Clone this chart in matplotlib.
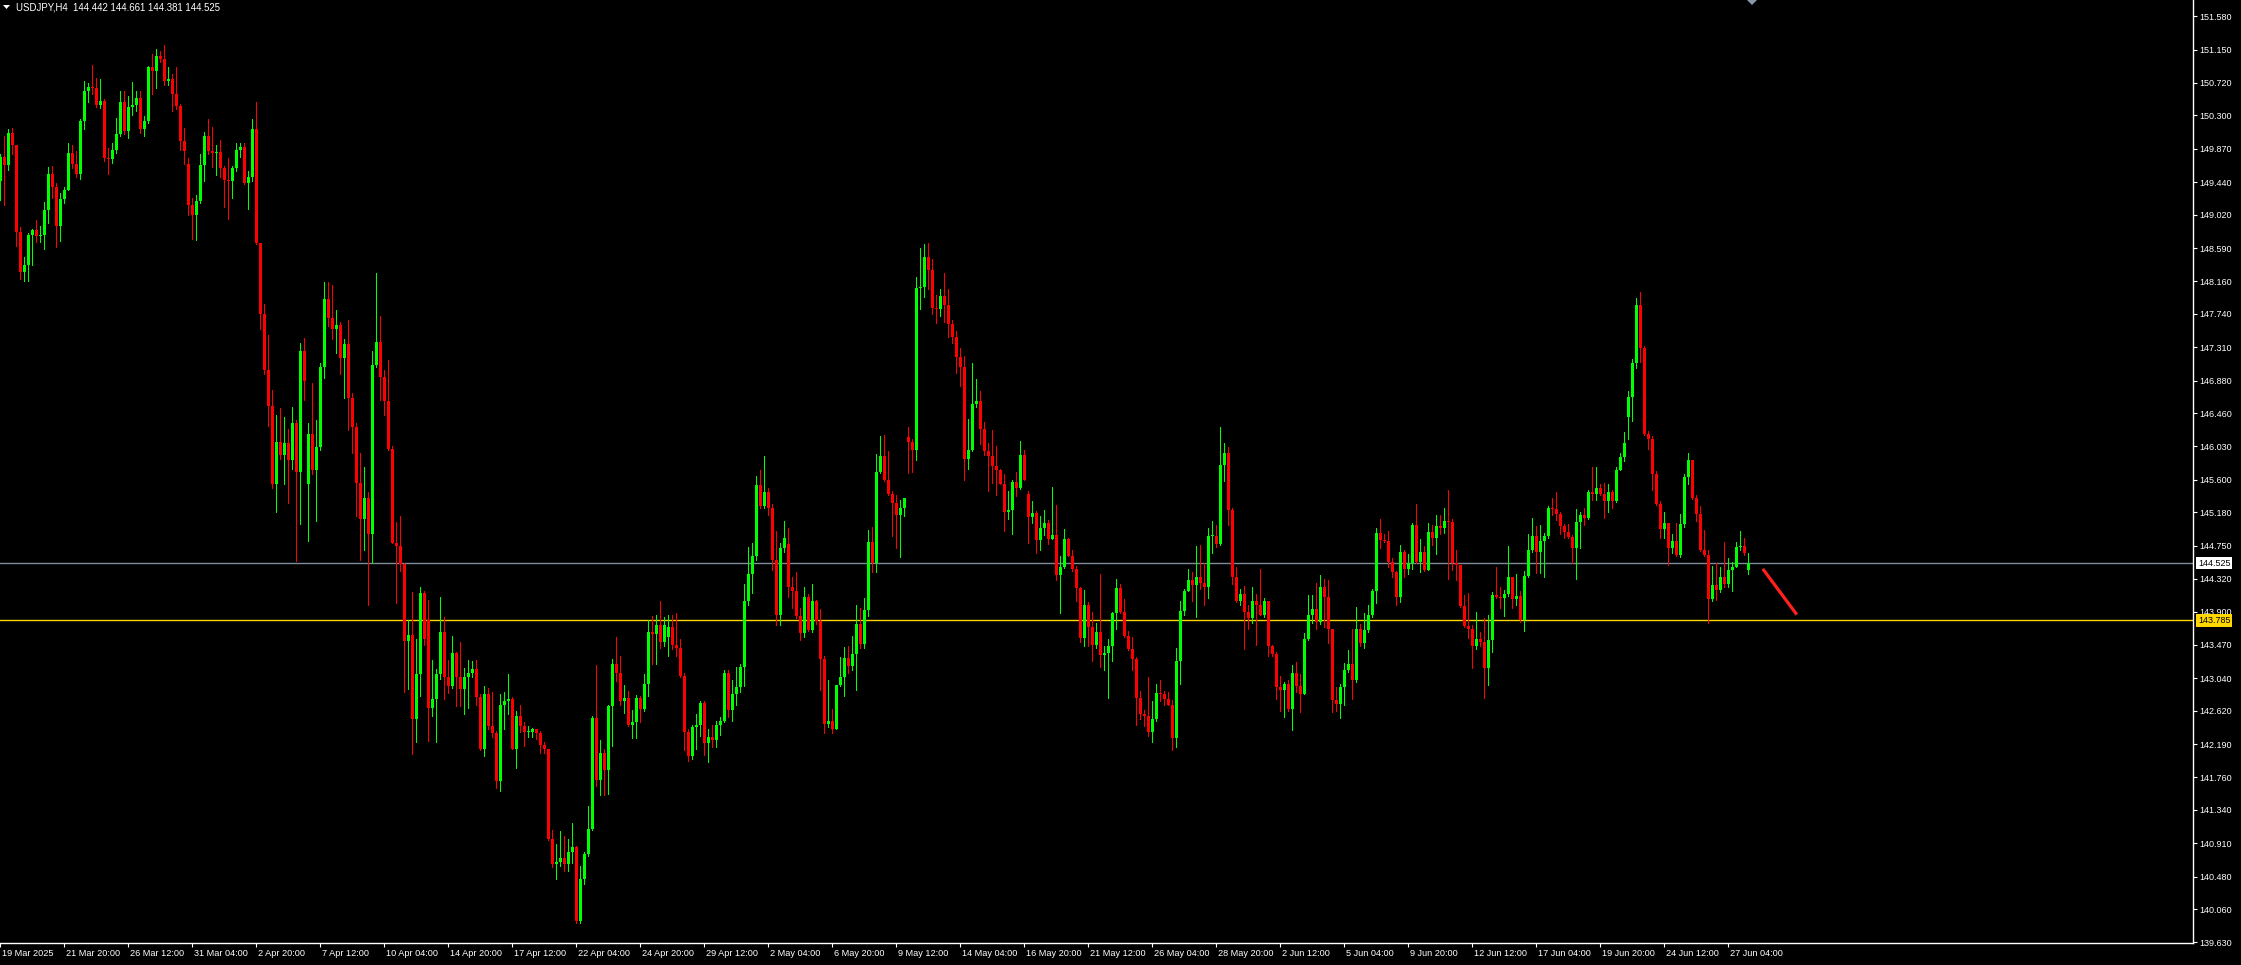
import numpy as np
import pandas as pd
import matplotlib
matplotlib.use("Agg")
import matplotlib.pyplot as plt
from matplotlib.patches import Polygon
from matplotlib.transforms import ScaledTranslation, blended_transform_factory

plt.rcParams['font.family'] = ['Liberation Sans', 'DejaVu Sans']

# USDJPY H4, first bar 19 Mar 2025 04:00
symbol = "USDJPY,H4"
first_time = "2025-03-19 04:00"
first_open = 149.45

closes = [
    149.77, 149.66, 150.08, 149.92, 148.80, 148.28, 148.37, 148.76, 148.82, 148.74,
    148.76, 149.08, 149.55, 149.38, 148.88, 149.22, 149.34, 149.82, 149.68, 149.54,
    150.23, 150.61, 150.67, 150.66, 150.43, 150.49, 149.75, 149.74, 149.86, 150.06,
    150.47, 150.10, 150.41, 150.43, 150.52, 150.12, 150.23, 150.92, 150.88, 151.07,
    151.03, 150.75, 150.77, 150.58, 150.42, 149.97, 149.84, 149.14, 149.02, 149.20,
    149.66, 150.03, 149.84, 149.82, 149.83, 149.62, 149.47, 149.46, 149.62, 149.86,
    149.89, 149.43, 149.50, 150.12, 148.65, 147.74, 147.01, 146.55, 145.54, 146.09,
    145.92, 146.08, 145.85, 146.33, 145.70, 147.26, 146.87, 146.19, 145.72, 146.02,
    147.06, 147.93, 147.69, 147.54, 147.60, 147.17, 147.35, 146.65, 146.28, 145.56,
    145.09, 145.37, 144.90, 147.08, 147.38, 146.93, 146.61, 146.00, 144.79, 144.74,
    144.51, 143.52, 143.60, 142.51, 143.10, 144.14, 143.55, 142.66, 142.77, 143.09,
    143.64, 143.05, 142.94, 143.37, 143.05, 142.90, 143.05, 143.11, 143.16, 142.80,
    142.12, 142.83, 142.42, 142.33, 141.71, 142.70, 142.74, 142.77, 142.13, 142.55,
    142.42, 142.34, 142.34, 142.38, 142.33, 142.18, 142.12, 140.97, 140.64, 140.67,
    140.72, 140.64, 140.80, 140.86, 139.91, 140.45, 140.77, 141.10, 142.53, 141.73,
    142.07, 141.86, 142.68, 143.22, 143.11, 142.75, 142.78, 142.43, 142.48, 142.78,
    142.64, 142.96, 143.63, 143.61, 143.73, 143.51, 143.73, 143.70, 143.47, 143.43,
    143.07, 142.34, 142.03, 142.41, 142.44, 142.72, 142.20, 142.28, 142.24, 142.43,
    142.49, 143.11, 142.63, 142.83, 142.92, 143.19, 144.04, 144.39, 144.62, 145.53,
    145.26, 145.44, 145.24, 144.56, 143.86, 144.72, 144.85, 144.22, 144.16, 143.84,
    143.62, 144.09, 143.66, 144.04, 143.78, 143.29, 142.45, 142.49, 142.39, 142.95,
    143.05, 143.30, 143.20, 143.35, 143.74, 143.48, 143.92, 144.80, 144.52, 145.70,
    145.91, 145.60, 145.41, 145.30, 145.14, 145.23, 145.37, 146.09, 145.99, 148.08,
    148.09, 148.48, 148.31, 147.81, 147.80, 147.97, 147.86, 147.61, 147.44, 147.18,
    147.06, 145.87, 145.99, 146.58, 146.61, 146.25, 145.97, 145.91, 145.78, 145.73,
    145.55, 145.18, 145.21, 145.57, 145.49, 145.92, 145.60, 145.12, 145.17, 144.82,
    144.98, 145.04, 144.83, 144.89, 144.37, 144.47, 144.84, 144.62, 144.45, 144.20,
    143.56, 143.98, 143.70, 143.47, 143.63, 143.34, 143.36, 143.46, 143.88, 144.20,
    143.89, 143.59, 143.41, 143.29, 142.79, 142.58, 142.55, 142.34, 142.51, 142.85,
    142.83, 142.77, 142.70, 142.27, 143.26, 143.91, 144.17, 144.31, 144.24, 144.35,
    144.27, 144.21, 144.88, 144.88, 144.77, 145.79, 145.95, 145.21, 144.34, 144.04,
    144.12, 143.90, 143.81, 144.04, 143.99, 143.86, 144.04, 143.46, 143.35, 142.93,
    142.89, 142.96, 142.64, 143.11, 142.94, 142.84, 143.55, 143.85, 143.93, 143.76,
    144.21, 144.09, 143.68, 142.76, 142.71, 142.92, 143.15, 143.22, 143.02, 143.68,
    143.50, 143.66, 143.86, 144.16, 144.91, 144.82, 144.81, 144.54, 144.41, 144.09,
    144.67, 144.45, 144.52, 145.01, 144.54, 144.67, 144.44, 144.93, 144.85, 145.00,
    144.98, 145.07, 145.05, 144.52, 144.50, 143.97, 143.71, 143.68, 143.45, 143.54,
    143.51, 143.17, 143.53, 144.11, 144.09, 144.08, 144.13, 144.34, 144.06, 144.10,
    143.79, 144.36, 144.70, 144.87, 144.67, 144.81, 144.88, 145.24, 145.22, 145.16,
    145.00, 144.92, 144.86, 144.72, 145.06, 145.14, 145.11, 145.44, 145.41, 145.50,
    145.42, 145.32, 145.44, 145.32, 145.73, 145.90, 146.08, 146.67, 147.10, 147.86,
    147.30, 146.19, 146.12, 145.67, 145.29, 144.96, 145.04, 144.72, 144.81, 144.63,
    145.03, 145.63, 145.86, 145.36, 145.16, 144.69, 144.63, 144.06, 144.24, 144.18,
    144.34, 144.26, 144.43, 144.48, 144.73, 144.74, 144.65, 144.525,
]

highs = [
    149.80, 150.03, 150.12, 150.14, 149.92, 148.86, 148.47, 148.79, 148.84, 148.95,
    148.88, 149.19, 149.63, 149.65, 149.43, 149.30, 149.38, 149.95, 149.92, 149.84,
    150.25, 150.75, 150.72, 150.95, 150.79, 150.77, 150.51, 149.88, 149.95, 150.27,
    150.62, 150.61, 150.55, 150.73, 150.62, 150.62, 150.29, 150.94, 151.09, 151.16,
    151.13, 151.21, 150.92, 150.84, 150.92, 150.45, 150.14, 149.75, 149.23, 149.28,
    149.80, 150.09, 150.26, 150.15, 149.92, 149.99, 149.65, 149.75, 149.65, 149.95,
    149.95, 149.95, 149.58, 150.25, 150.48, 148.62, 147.87, 147.47, 146.76, 146.43,
    146.52, 146.41, 146.26, 146.54, 146.37, 147.37, 147.43, 146.33, 146.85, 146.37,
    147.11, 148.15, 148.15, 148.11, 147.79, 147.63, 147.41, 147.66, 146.72, 146.33,
    145.94, 145.77, 145.44, 147.26, 148.27, 147.71, 147.02, 147.15, 146.04, 145.05,
    145.13, 144.53, 143.79, 144.15, 143.55, 144.21, 144.16, 144.05, 143.27, 143.16,
    144.09, 143.83, 143.27, 143.59, 143.38, 143.51, 143.17, 143.27, 143.26, 143.27,
    142.83, 142.94, 142.91, 142.86, 142.36, 142.84, 142.86, 143.09, 142.80, 142.62,
    142.70, 142.48, 142.42, 142.40, 142.39, 142.36, 142.21, 142.12, 141.08, 140.90,
    141.07, 141.01, 140.97, 141.17, 140.87, 140.62, 140.80, 141.39, 142.55, 143.21,
    142.24, 142.13, 142.69, 143.29, 143.57, 143.32, 142.95, 142.87, 142.63, 142.82,
    142.81, 143.10, 143.79, 143.84, 143.85, 144.03, 143.83, 143.86, 143.85, 143.88,
    143.55, 143.11, 142.38, 142.43, 142.58, 142.74, 142.75, 142.39, 142.43, 142.49,
    142.54, 143.15, 143.14, 143.02, 143.19, 143.22, 144.25, 144.73, 144.78, 145.65,
    145.72, 145.91, 145.50, 145.29, 144.94, 144.78, 145.07, 144.98, 144.35, 144.41,
    143.94, 144.22, 144.13, 144.26, 144.05, 143.93, 143.32, 143.02, 142.64, 142.95,
    143.31, 143.44, 143.45, 143.59, 143.99, 143.95, 144.07, 144.95, 144.99, 145.93,
    146.17, 146.18, 145.97, 145.45, 145.40, 145.34, 145.37, 146.28, 146.13, 148.21,
    148.59, 148.64, 148.65, 148.45, 147.99, 148.06, 148.27, 148.06, 147.66, 147.52,
    147.30, 147.20, 146.39, 147.11, 146.90, 146.74, 146.34, 146.08, 146.24, 146.03,
    145.74, 145.67, 145.46, 145.60, 145.70, 146.10, 145.98, 145.45, 145.33, 145.20,
    145.13, 145.21, 145.08, 145.51, 145.28, 144.61, 144.97, 144.85, 144.69, 144.49,
    144.22, 144.18, 144.02, 143.89, 143.75, 144.39, 143.46, 143.55, 143.90, 144.32,
    144.26, 144.06, 143.65, 143.57, 143.31, 142.88, 142.63, 143.06, 142.75, 142.97,
    143.02, 142.87, 142.86, 142.76, 143.43, 144.04, 144.19, 144.45, 144.41, 144.75,
    144.76, 144.53, 144.98, 145.07, 145.01, 146.28, 146.08, 146.02, 145.23, 144.47,
    144.19, 144.23, 143.99, 144.22, 144.13, 144.45, 144.07, 143.98, 143.47, 143.38,
    143.07, 142.99, 143.01, 143.21, 143.25, 143.10, 143.62, 144.11, 144.11, 144.27,
    144.37, 144.32, 144.31, 143.68, 142.93, 142.97, 143.23, 143.40, 143.67, 143.96,
    143.74, 143.88, 143.98, 144.19, 144.98, 145.09, 144.90, 144.94, 144.59, 144.42,
    144.76, 144.70, 144.64, 145.04, 145.29, 144.83, 144.74, 145.04, 145.01, 145.15,
    145.15, 145.24, 145.47, 145.09, 144.69, 144.50, 144.11, 144.14, 143.73, 143.90,
    143.64, 143.81, 143.86, 144.15, 144.48, 144.21, 144.18, 144.74, 144.35, 144.38,
    144.17, 144.42, 144.90, 145.11, 145.00, 145.02, 144.91, 145.26, 145.36, 145.44,
    145.18, 145.03, 145.03, 144.89, 145.22, 145.18, 145.24, 145.47, 145.76, 145.76,
    145.55, 145.56, 145.54, 145.47, 145.76, 145.95, 146.21, 146.75, 147.16, 147.95,
    148.02, 147.33, 146.23, 146.16, 145.71, 145.32, 145.18, 145.04, 144.90, 145.04,
    145.16, 145.67, 145.95, 145.86, 145.40, 145.26, 144.95, 144.70, 144.49, 144.53,
    144.47, 144.80, 144.59, 144.54, 144.80, 144.94, 144.85, 144.661,
]

lows = [
    149.21, 149.14, 149.60, 149.80, 148.62, 148.19, 148.17, 148.17, 148.37, 148.67,
    148.67, 148.58, 148.91, 149.23, 148.60, 148.68, 149.17, 149.34, 149.62, 149.50,
    149.48, 150.12, 150.47, 150.58, 150.41, 150.40, 149.71, 149.54, 149.69, 149.82,
    150.04, 150.06, 150.01, 150.30, 150.36, 150.08, 150.04, 150.20, 150.58, 150.66,
    150.99, 150.69, 150.69, 150.36, 150.38, 149.86, 149.68, 149.02, 148.71, 148.69,
    149.17, 149.45, 149.80, 149.63, 149.53, 149.50, 149.12, 148.96, 149.23, 149.58,
    149.77, 149.41, 149.09, 149.45, 148.64, 147.54, 146.96, 146.29, 145.50, 145.18,
    145.87, 145.54, 145.30, 145.74, 144.55, 145.03, 146.63, 144.81, 145.68, 145.07,
    145.98, 146.91, 147.58, 147.41, 147.24, 146.96, 146.66, 146.24, 145.94, 145.13,
    144.57, 144.70, 143.99, 144.53, 147.05, 146.63, 146.44, 145.98, 144.78, 144.01,
    144.42, 142.86, 142.90, 142.06, 142.21, 142.81, 143.47, 142.23, 142.55, 142.22,
    143.03, 142.77, 142.85, 142.91, 142.68, 142.68, 142.58, 142.65, 143.05, 142.70,
    142.11, 142.03, 142.38, 142.28, 141.62, 141.59, 142.38, 142.58, 142.12, 141.88,
    142.34, 142.16, 142.28, 142.28, 142.25, 142.08, 142.08, 140.95, 140.60, 140.45,
    140.62, 140.55, 140.55, 140.65, 139.88, 139.88, 140.38, 140.75, 141.08, 141.65,
    141.53, 141.53, 141.55, 142.17, 143.00, 142.69, 142.59, 142.42, 142.27, 142.27,
    142.48, 142.62, 142.81, 143.22, 143.22, 143.43, 143.46, 143.33, 143.41, 143.32,
    143.06, 142.11, 141.97, 142.00, 142.12, 142.29, 142.05, 141.96, 142.15, 142.15,
    142.31, 142.47, 142.54, 142.49, 142.69, 142.86, 142.94, 143.99, 144.14, 144.57,
    145.24, 145.23, 145.14, 144.43, 143.72, 143.72, 144.67, 144.09, 143.95, 143.81,
    143.53, 143.57, 143.65, 143.63, 143.74, 142.89, 142.33, 142.41, 142.33, 142.41,
    142.94, 142.81, 143.11, 143.14, 142.89, 143.43, 143.43, 143.84, 144.41, 144.41,
    145.69, 145.59, 145.40, 144.87, 144.72, 144.60, 145.13, 145.69, 145.70, 145.86,
    147.80, 147.96, 148.06, 147.74, 147.62, 147.71, 147.64, 147.44, 147.37, 146.98,
    146.81, 145.60, 145.74, 145.97, 146.54, 146.06, 145.92, 145.46, 145.56, 145.40,
    145.54, 144.94, 145.10, 144.90, 145.39, 145.48, 145.60, 144.79, 145.04, 144.66,
    144.69, 144.89, 144.77, 144.84, 144.31, 143.88, 144.46, 144.61, 144.42, 144.03,
    143.51, 143.45, 143.46, 143.26, 143.43, 143.19, 143.14, 142.79, 143.26, 143.67,
    143.88, 143.57, 143.40, 143.14, 142.44, 142.51, 142.42, 142.29, 142.22, 142.49,
    142.74, 142.69, 142.69, 142.11, 142.15, 142.97, 143.86, 144.17, 144.03, 143.83,
    144.19, 143.99, 144.07, 144.65, 144.73, 144.76, 145.58, 145.01, 144.25, 144.02,
    143.98, 143.42, 143.68, 143.75, 143.47, 143.85, 143.83, 143.33, 143.32, 142.77,
    142.61, 142.54, 142.61, 142.37, 142.86, 142.60, 142.83, 143.53, 143.75, 143.67,
    143.74, 143.70, 143.49, 142.60, 142.61, 142.52, 142.69, 143.12, 142.77, 142.99,
    143.45, 143.43, 143.64, 143.83, 144.01, 144.72, 144.80, 144.47, 144.35, 143.98,
    144.02, 144.35, 144.38, 144.45, 144.52, 144.41, 144.42, 144.50, 144.76, 144.64,
    144.90, 144.91, 144.32, 144.44, 144.31, 143.96, 143.70, 143.56, 143.17, 143.42,
    143.45, 142.78, 142.95, 143.38, 144.07, 143.95, 143.84, 144.10, 143.95, 143.98,
    143.77, 143.65, 144.35, 144.67, 144.40, 144.40, 144.35, 144.85, 145.15, 145.08,
    144.90, 144.85, 144.85, 144.52, 144.32, 144.72, 145.02, 145.10, 145.34, 145.34,
    145.40, 145.11, 145.18, 145.24, 145.31, 145.72, 145.84, 146.13, 146.36, 147.04,
    147.12, 146.18, 146.00, 145.47, 145.28, 144.85, 144.85, 144.50, 144.65, 144.61,
    144.60, 144.99, 145.54, 145.35, 145.07, 144.68, 144.61, 143.75, 144.03, 144.05,
    144.15, 144.21, 144.22, 144.17, 144.47, 144.70, 144.63, 144.381,
]

# Monday opens (weekend gaps), bar index -> open
gap_opens = {47: 149.67, 77: 145.54, 107: 143.79, 167: 143.57, 197: 144.77,
             227: 146.15, 257: 145.41, 407: 146.41, 437: 144.442}

bid_price = 144.525
level_price = 143.785
trend_bars = [440.6, 449.1]
trend_prices = [144.45, 143.86]

price_ticks = [151.580, 151.150, 150.720, 150.300, 149.870, 149.440, 149.020,
               148.590, 148.160, 147.740, 147.310, 146.880, 146.460, 146.030,
               145.600, 145.180, 144.750, 144.320, 143.900, 143.470, 143.040,
               142.620, 142.190, 141.760, 141.340, 140.910, 140.480, 140.060,
               139.630]

# build ohlc
n = min(len(closes), len(highs), len(lows))
c = np.array(closes[:n])
o = np.empty(n)
o[0] = first_open
o[1:] = c[:-1]
for b, v in gap_opens.items():
    if b < n:
        o[b] = v
hi = np.maximum(np.array(highs[:n]), np.maximum(o, c))
lo = np.minimum(np.array(lows[:n]), np.minimum(o, c))

t = pd.date_range(first_time, periods=2 * n, freq="4h")
t = t[t.dayofweek < 5][:n]

W, H = 2241, 965
fig = plt.figure(figsize=(W / 100, H / 100), dpi=100, facecolor="black")
ax = fig.add_axes([0, 22 / H, 2193 / W, 943 / H], facecolor="black")

x = np.arange(n)
cols = np.where(c >= o, "#00ff00", "#ff0000")
ax.vlines(x, lo, hi, colors=cols, linewidth=0.72, antialiased=False, zorder=2)
body = np.maximum(np.abs(c - o), 0.012)
ax.bar(x, body, bottom=np.minimum(o, c), width=0.68, color=cols,
       linewidth=0, antialiased=False, zorder=3)

ax.axhline(bid_price, color="#7f8c9c", linewidth=1, zorder=1)
ax.axhline(level_price, color="#ffd700", linewidth=1, zorder=1)
ax.plot(trend_bars, trend_prices, color="#ff2020", linewidth=2.3,
        solid_capstyle="butt", zorder=4)

ax.set_xlim(-0.1, 548.15)
ax.set_ylim(139.623, 151.790)

for s in ["top", "left"]:
    ax.spines[s].set_visible(False)
for s in ["right", "bottom"]:
    ax.spines[s].set_color("white")
    ax.spines[s].set_linewidth(1)

ax.yaxis.tick_right()
ax.set_yticks(price_ticks)
ax.set_yticklabels([f"{p:.3f}" for p in price_ticks])
ax.tick_params(axis="y", colors="white", labelcolor="white", length=3,
               width=0.8, labelsize=6.5, pad=1.5, direction="out")

xt = list(range(0, n, 16))
xl = []
for i, b in enumerate(xt):
    d = t[b]
    if i == 0:
        xl.append(f"{d.day} {d:%b %Y}")
    else:
        xl.append(f"{d.day} {d:%b %H:%M}")
ax.set_xticks(xt)
ax.set_xticklabels(xl, ha="left")
ax.tick_params(axis="x", colors="white", labelcolor="white", length=3,
               width=0.8, labelsize=6.6, pad=1.5, direction="out")
off = ScaledTranslation(2 / 100, 0, fig.dpi_scale_trans)
for lbl in ax.get_xticklabels():
    lbl.set_transform(lbl.get_transform() + off)

# price labels on the axis
tr = blended_transform_factory(ax.transAxes, ax.transData)
ax.annotate(f"{bid_price:.3f}", xy=(1, bid_price), xycoords=tr,
            xytext=(5, 0), textcoords="offset pixels", va="center", ha="left",
            fontsize=6.5, color="black", annotation_clip=False, zorder=6,
            bbox=dict(boxstyle="square,pad=0.18", fc="white", ec="none"))
ax.annotate(f"{level_price:.3f}", xy=(1, level_price), xycoords=tr,
            xytext=(5, 0), textcoords="offset pixels", va="center", ha="left",
            fontsize=6.5, color="black", annotation_clip=False, zorder=6,
            bbox=dict(boxstyle="square,pad=0.18", fc="#ffd700", ec="none"))

# header
fig.patches.append(Polygon([[3 / W, 1 - 5 / H], [10 / W, 1 - 5 / H], [6.5 / W, 1 - 9 / H]],
                           closed=True, transform=fig.transFigure, fc="white", ec="none"))
fig.text(16 / W, 1 - 7.5 / H,
         f"{symbol}  {o[-1]:.3f} {hi[-1]:.3f} {lo[-1]:.3f} {c[-1]:.3f}",
         color="white", fontsize=6.9, va="center", ha="left")

# chart shift marker
fig.patches.append(Polygon([[1747 / W, 1.0], [1757 / W, 1.0], [1752 / W, 1 - 5 / H]],
                           closed=True, transform=fig.transFigure, fc="#8a97a8", ec="none"))

fig.savefig("out.png", dpi=100, facecolor="black")
